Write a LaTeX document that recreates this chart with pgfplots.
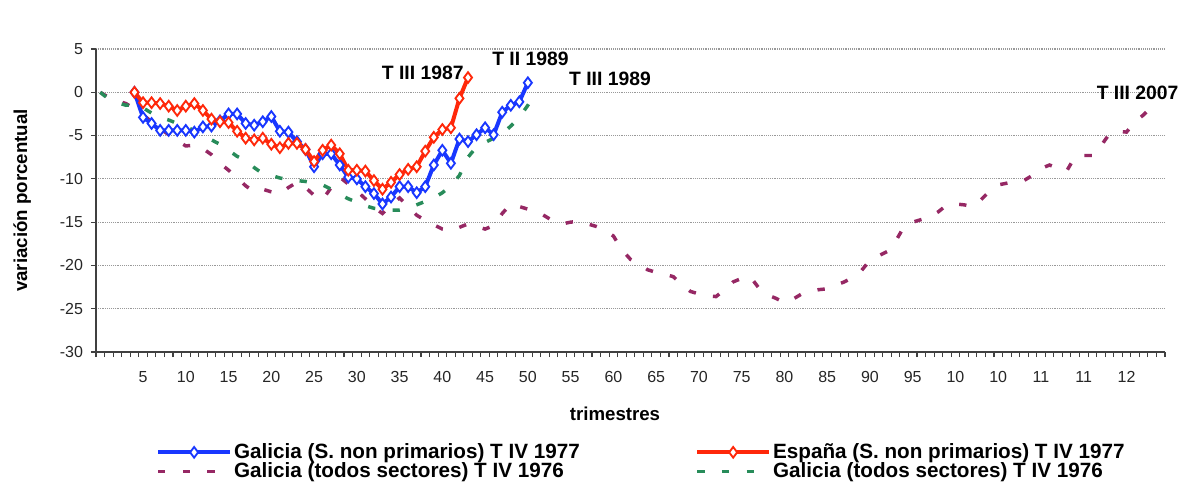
\documentclass[border=0pt]{standalone}
\usepackage{fontspec}
\setmainfont{Liberation Sans}
\usepackage{pgfplots}
\pgfplotsset{compat=1.18}
\definecolor{blueline}{RGB}{25,55,255}
\definecolor{redline}{RGB}{255,40,10}
\definecolor{purpleline}{RGB}{150,40,100}
\definecolor{greenline}{RGB}{40,140,90}
\pgfplotsset{
  bluestyle/.style={blueline, line width=3pt, mark=diamond*, mark size=4pt, mark options={fill=white, draw=blueline, line width=1.4pt, solid}},
  redstyle/.style={redline, line width=3pt, mark=diamond*, mark size=4pt, mark options={fill=white, draw=redline, line width=1.4pt, solid}},
  purplestyle/.style={purpleline, line width=2.6pt, dash pattern=on 5.5pt off 13pt, no marks},
  greenstyle/.style={greenline, line width=2.6pt, dash pattern=on 5.5pt off 13pt, no marks},
}
\begin{document}
\begin{tikzpicture}
\begin{axis}[
  name=ax,
  scale only axis,
  width=801.75pt, height=227.25pt,
  xmin=0.5, xmax=125.5, ymin=-30, ymax=5,
  axis lines*=left,
  axis line style={line width=1pt, black!75},
  tick align=outside,
  major tick length=3.75pt,
  tick style={line width=0.8pt, black!75},
  xtick={0.5,1.5,...,125.5},
  xticklabels={},
  extra x ticks={6,11,...,121},
  extra x tick labels={5,10,15,20,25,30,35,40,45,50,55,60,65,70,75,80,85,90,95,10,10,11,11,12},
  extra x tick style={tick style={draw=none}},
  ytick={-30,-25,...,5},
  yticklabels={-30,-25,-20,-15,-10,-5,0,5},
  ymajorgrids,
  major grid style={densely dotted, black!40, line width=0.9pt},
  tick label style={font=\fontsize{12}{12}\selectfont, black!85},
  xticklabel style={yshift=-7pt},
  yticklabel style={xshift=-2.5pt},
  xlabel={trimestres},
  ylabel={variación porcentual},
  label style={font=\bfseries\fontsize{14}{14}\selectfont},
  xlabel style={at={(axis description cs:0.4855,-0.205)}, anchor=center},
  ylabel style={at={(axis description cs:-0.069,0.5)}, anchor=center},
  clip=false,
  legend columns=2,
  legend cell align=left,
  legend image code/.code={\draw[mark repeat=2,mark phase=2,#1] plot coordinates {(0pt,0pt)(27pt,0pt)(54pt,0pt)};},
  legend style={at={(axis description cs:0.056,-0.30)}, anchor=north west, draw=none, fill=none,
    font=\bfseries\fontsize{15.5}{15.5}\selectfont, inner sep=0pt, row sep=0.6pt,
    nodes={inner sep=0.5pt},
    /tikz/every odd column/.append style={column sep=1pt},
    /tikz/every even column/.append style={column sep=86pt}},
]
\addlegendimage{bluestyle}
\addlegendentry{Galicia (S. non primarios) T IV 1977}
\addlegendimage{redstyle}
\addlegendentry{España (S. non primarios) T IV 1977}
\addlegendimage{purplestyle}
\addlegendentry{Galicia (todos sectores) T IV 1976}
\addlegendimage{greenstyle}
\addlegendentry{Galicia (todos sectores) T IV 1976}

% Galicia todos sectores (purple)
\addplot[purplestyle, forget plot] coordinates {
(1,0.0)(2,-0.6)(3,-1.0)(4,-1.3)(5,-1.9)(6,-2.6)(7,-3.4)(8,-4.2)(9,-4.9)(10,-5.6)
(11,-6.2)(12,-6.1)(13,-6.5)(14,-7.2)(15,-8.2)(16,-9.0)(17,-9.9)(18,-10.8)(19,-11.5)(20,-11.2)
(21,-11.5)(22,-11.7)(23,-11.0)(24,-10.4)(25,-11.0)(26,-11.9)(27,-12.4)(28,-11.0)(29,-9.8)(30,-10.6)
(31,-11.4)(32,-12.3)(33,-13.3)(34,-14.0)(35,-13.0)(36,-12.2)(37,-13.2)(38,-14.2)(39,-14.8)(40,-15.3)
(41,-15.8)(42,-16.0)(43,-15.6)(44,-15.2)(45,-15.5)(46,-15.8)(47,-15.4)(48,-14.0)(49,-12.9)(50,-13.2)
(51,-13.5)(52,-13.7)(53,-14.3)(54,-14.9)(55,-15.2)(56,-15.0)(57,-14.9)(58,-15.2)(59,-15.5)(60,-15.9)
(61,-16.6)(62,-18.2)(63,-19.3)(64,-19.8)(65,-20.5)(66,-20.8)(67,-21.0)(68,-21.3)(69,-22.2)(70,-23.0)
(71,-23.3)(72,-23.5)(73,-23.6)(74,-22.8)(75,-21.9)(76,-21.5)(77,-21.3)(78,-22.6)(79,-23.4)(80,-23.8)
(81,-24.3)(82,-23.9)(83,-23.3)(84,-23.0)(85,-22.8)(86,-22.7)(87,-22.3)(88,-21.9)(89,-21.4)(90,-20.6)
(91,-19.4)(92,-18.9)(93,-18.4)(94,-17.2)(95,-15.5)(96,-15.0)(97,-14.7)(98,-14.4)(99,-13.8)(100,-13.0)
(101,-12.9)(102,-13.0)(103,-13.2)(104,-12.4)(105,-11.4)(106,-10.7)(107,-10.5)(108,-10.3)(109,-10.2)(110,-9.6)
(111,-8.8)(112,-8.4)(113,-8.8)(114,-9.1)(115,-7.4)(116,-7.3)(117,-7.3)(118,-6.2)(119,-4.8)(120,-4.5)
(121,-4.6)(122,-3.4)(123,-2.6)(124,-1.6)
};
% Galicia todos sectores (green)
\addplot[greenstyle, forget plot] coordinates {
(1,0)(2,-0.8)(3,-1.2)(4,-1.5)(5,-1.4)(6,-1.8)(7,-2.4)(8,-2.9)(9,-3.2)(10,-3.6)
(11,-4.0)(12,-4.4)(13,-4.9)(14,-5.5)(15,-6.0)(16,-6.7)(17,-7.4)(18,-7.9)(19,-8.7)(20,-9.4)
(21,-9.6)(22,-9.9)(23,-10.1)(24,-10.2)(25,-10.3)(26,-10.5)(27,-10.7)(28,-11.2)(29,-11.8)(30,-12.3)
(31,-12.7)(32,-13.1)(33,-13.4)(34,-13.5)(35,-13.6)(36,-13.6)(37,-13.4)(38,-13.0)(39,-12.6)(40,-12.2)
(41,-11.6)(42,-10.8)(43,-9.6)(44,-7.5)(45,-6.3)(46,-5.8)(47,-5.3)(48,-4.8)(49,-3.9)(50,-2.9)
(51,-1.5)(52,0.2)
};
% Galicia S. non primarios (blue)
\addplot[bluestyle, forget plot] coordinates {
(5,0)(6,-2.9)(7,-3.6)(8,-4.4)(9,-4.4)(10,-4.4)(11,-4.4)(12,-4.6)(13,-4.0)(14,-3.9)
(15,-3.3)(16,-2.5)(17,-2.5)(18,-3.6)(19,-3.8)(20,-3.4)(21,-2.8)(22,-4.5)(23,-4.6)(24,-5.7)
(25,-6.6)(26,-8.6)(27,-7.1)(28,-7.1)(29,-8.4)(30,-9.8)(31,-10.0)(32,-10.9)(33,-11.7)(34,-12.9)
(35,-12.1)(36,-10.9)(37,-10.9)(38,-11.6)(39,-10.9)(40,-8.4)(41,-6.7)(42,-8.2)(43,-5.4)(44,-5.7)
(45,-4.9)(46,-4.1)(47,-4.9)(48,-2.3)(49,-1.5)(50,-1.1)(51,1.1)
};
% Espana S. non primarios (red)
\addplot[redstyle, forget plot] coordinates {
(5,0)(6,-1.2)(7,-1.2)(8,-1.3)(9,-1.6)(10,-2.1)(11,-1.6)(12,-1.3)(13,-2.1)(14,-3.1)
(15,-3.4)(16,-3.5)(17,-4.5)(18,-5.3)(19,-5.5)(20,-5.3)(21,-6.0)(22,-6.4)(23,-5.9)(24,-5.9)
(25,-6.6)(26,-8.0)(27,-6.7)(28,-6.1)(29,-7.1)(30,-9.0)(31,-9.0)(32,-9.1)(33,-10.2)(34,-11.2)
(35,-10.4)(36,-9.5)(37,-8.9)(38,-8.6)(39,-6.8)(40,-5.2)(41,-4.3)(42,-4.1)(43,-0.7)(44,1.7)
};
\node[font=\bfseries\fontsize{14.5}{14.5}\selectfont, inner sep=0pt] at (axis cs:38.7,2.2) {T III 1987};
\node[font=\bfseries\fontsize{14.5}{14.5}\selectfont, inner sep=0pt] at (axis cs:51.3,3.9) {T II 1989};
\node[font=\bfseries\fontsize{14.5}{14.5}\selectfont, inner sep=0pt] at (axis cs:60.6,1.6) {T III 1989};
\node[font=\bfseries\fontsize{14.5}{14.5}\selectfont, inner sep=0pt] at (axis cs:122.3,-0.1) {T III 2007};
\end{axis}
\pgfresetboundingbox
\path ([xshift=-72pt,yshift=-108pt]ax.south west) rectangle ([xshift=12pt,yshift=36.75pt]ax.north east);
\end{tikzpicture}
\end{document}
